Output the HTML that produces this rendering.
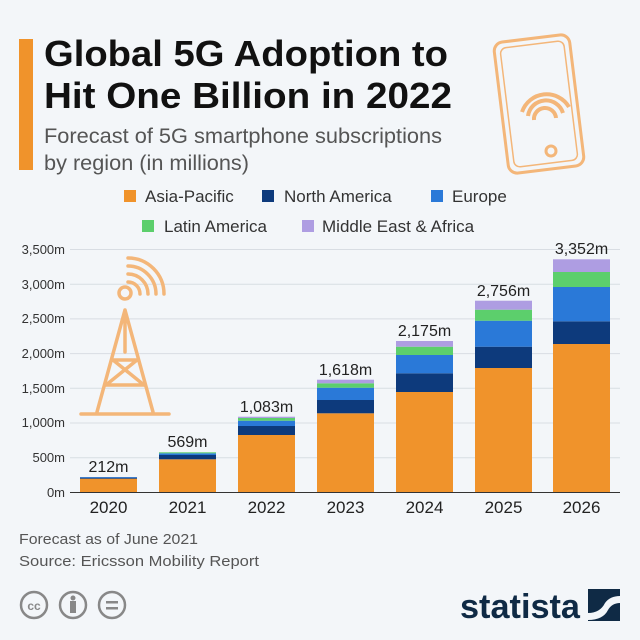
<!DOCTYPE html>
<html><head><meta charset="utf-8"><style>
body{margin:0;background:#f3f6f9;}
svg{display:block;font-family:"Liberation Sans",sans-serif;}
</style></head><body>
<svg width="640" height="640" viewBox="0 0 640 640">
<rect width="640" height="640" fill="#f3f6f9"/>
<rect x="19" y="39" width="14" height="131" fill="#f0932b"/>
<text x="44" y="66" font-size="36" font-weight="bold" fill="#111" textLength="404" lengthAdjust="spacingAndGlyphs">Global 5G Adoption to</text>
<text x="44" y="108" font-size="36" font-weight="bold" fill="#111" textLength="408" lengthAdjust="spacingAndGlyphs">Hit One Billion in 2022</text>
<text x="44" y="143" font-size="21" fill="#555" textLength="398" lengthAdjust="spacingAndGlyphs">Forecast of 5G smartphone subscriptions</text>
<text x="44" y="170" font-size="21" fill="#555" textLength="205" lengthAdjust="spacingAndGlyphs">by region (in millions)</text>
<!-- phone -->
<g fill="none" stroke="#f3b679" stroke-width="3">
<rect x="501" y="38" width="76" height="132" rx="9" transform="rotate(-7 539 104)"/>
<rect x="507" y="44" width="64" height="120" rx="6" transform="rotate(-7 539 104)" stroke-width="1.5"/>
<circle cx="551" cy="151" r="5"/>
<path d="M522 112 a26 26 0 0 1 47 -5 M528 116 a18 18 0 0 1 35 -3 M534 120 a10 10 0 0 1 22 -2" stroke-width="4"/>
</g>
<!-- legend -->
<g font-size="17" fill="#333">
<rect x="124" y="190" width="12" height="12" fill="#f0932b"/><text x="145" y="202">Asia-Pacific</text>
<rect x="262" y="190" width="12" height="12" fill="#0d3a7c"/><text x="284" y="202">North America</text>
<rect x="431" y="190" width="12" height="12" fill="#2a79d8"/><text x="452" y="202">Europe</text>
<rect x="142" y="220" width="12" height="12" fill="#5ccf6c"/><text x="164" y="232">Latin America</text>
<rect x="302" y="220" width="12" height="12" fill="#ae9de2"/><text x="322" y="232">Middle East &amp; Africa</text>
</g>
<!-- grid -->
<g stroke="#d8dde3" stroke-width="1">
<line x1="70" x2="620" y1="249.5" y2="249.5"/><line x1="70" x2="620" y1="284.2" y2="284.2"/>
<line x1="70" x2="620" y1="318.9" y2="318.9"/><line x1="70" x2="620" y1="353.6" y2="353.6"/>
<line x1="70" x2="620" y1="388.3" y2="388.3"/><line x1="70" x2="620" y1="423" y2="423"/>
<line x1="70" x2="620" y1="457.7" y2="457.7"/>
</g>
<g font-size="13" fill="#333" text-anchor="end">
<text x="65" y="254">3,500m</text><text x="65" y="289">3,000m</text><text x="65" y="323">2,500m</text>
<text x="65" y="358">2,000m</text><text x="65" y="393">1,500m</text><text x="65" y="427">1,000m</text>
<text x="65" y="462">500m</text><text x="65" y="497">0m</text>
</g>
<!-- tower -->
<g fill="none" stroke="#f3b679" stroke-width="3.5" stroke-linecap="round">
<circle cx="125" cy="293" r="6"/>
<path d="M128 282 a12 12 0 0 1 12 12 M128 274 a20 20 0 0 1 20 20 M128 266 a28 28 0 0 1 28 28 M128 258 a36 36 0 0 1 36 36"/>
<path d="M125 310 L97 412 M125 310 L153 412 M125 310 L125 352 M113 360 L137 360 M106 385 L144 385 M113 360 L144 385 M137 360 L106 385 M81 414 L169 414"/>
</g>
<!-- bars -->
<g>
<rect x="80" y="478.7" width="57" height="13.3" fill="#f0932b"/><rect x="80" y="477.7" width="57" height="1" fill="#0d3a7c"/><rect x="80" y="477" width="57" height="0.7" fill="#2a79d8"/>
<rect x="159" y="459.3" width="57" height="32.7" fill="#f0932b"/><rect x="159" y="455" width="57" height="4.3" fill="#0d3a7c"/><rect x="159" y="453.3" width="57" height="1.7" fill="#2a79d8"/><rect x="159" y="452.3" width="57" height="1" fill="#5ccf6c"/>
<rect x="238" y="435" width="57" height="57" fill="#f0932b"/><rect x="238" y="426" width="57" height="9" fill="#0d3a7c"/><rect x="238" y="420.7" width="57" height="5.3" fill="#2a79d8"/><rect x="238" y="418" width="57" height="2.7" fill="#5ccf6c"/><rect x="238" y="416.7" width="57" height="1.3" fill="#ae9de2"/>
<rect x="317" y="413.3" width="57" height="78.7" fill="#f0932b"/><rect x="317" y="400" width="57" height="13.3" fill="#0d3a7c"/><rect x="317" y="387.7" width="57" height="12.3" fill="#2a79d8"/><rect x="317" y="383.3" width="57" height="4.4" fill="#5ccf6c"/><rect x="317" y="379.7" width="57" height="3.6" fill="#ae9de2"/>
<rect x="396" y="392" width="57" height="100" fill="#f0932b"/><rect x="396" y="373.3" width="57" height="18.7" fill="#0d3a7c"/><rect x="396" y="355" width="57" height="18.3" fill="#2a79d8"/><rect x="396" y="346.7" width="57" height="8.3" fill="#5ccf6c"/><rect x="396" y="341" width="57" height="5.7" fill="#ae9de2"/>
<rect x="475" y="368" width="57" height="124" fill="#f0932b"/><rect x="475" y="346.7" width="57" height="21.3" fill="#0d3a7c"/><rect x="475" y="320.7" width="57" height="26" fill="#2a79d8"/><rect x="475" y="309.7" width="57" height="11" fill="#5ccf6c"/><rect x="475" y="300.7" width="57" height="9" fill="#ae9de2"/>
<rect x="553" y="344" width="57" height="148" fill="#f0932b"/><rect x="553" y="321.3" width="57" height="22.7" fill="#0d3a7c"/><rect x="553" y="287" width="57" height="34.3" fill="#2a79d8"/><rect x="553" y="272" width="57" height="15" fill="#5ccf6c"/><rect x="553" y="259.3" width="57" height="12.7" fill="#ae9de2"/>
</g>
<line x1="70" x2="620" y1="492.5" y2="492.5" stroke="#333" stroke-width="1"/>
<g font-size="16" fill="#222" text-anchor="middle">
<text x="108.5" y="472">212m</text><text x="187.5" y="447">569m</text><text x="266.5" y="412">1,083m</text>
<text x="345.5" y="375">1,618m</text><text x="424.5" y="336">2,175m</text><text x="503.5" y="296">2,756m</text><text x="581.5" y="254">3,352m</text>
</g>
<g font-size="17" fill="#222" text-anchor="middle">
<text x="108.5" y="513">2020</text><text x="187.5" y="513">2021</text><text x="266.5" y="513">2022</text><text x="345.5" y="513">2023</text>
<text x="424.5" y="513">2024</text><text x="503.5" y="513">2025</text><text x="581.5" y="513">2026</text>
</g>
<g font-size="15" fill="#555">
<text x="19" y="544" textLength="179" lengthAdjust="spacingAndGlyphs">Forecast as of June 2021</text>
<text x="19" y="566" textLength="240" lengthAdjust="spacingAndGlyphs">Source: Ericsson Mobility Report</text>
</g>
<g fill="none" stroke="#888" stroke-width="2.5">
<circle cx="34" cy="605" r="13"/><circle cx="73" cy="605" r="13"/><circle cx="112" cy="605" r="13"/>
</g>
<text x="34" y="610" font-size="12" font-weight="bold" fill="#888" text-anchor="middle">cc</text>
<circle cx="73" cy="598" r="2.5" fill="#888"/><rect x="70" y="601" width="6" height="12" fill="#888"/>
<rect x="106" y="601" width="12" height="2.5" fill="#888"/><rect x="106" y="607" width="12" height="2.5" fill="#888"/>
<text x="460" y="618" font-size="34" font-weight="bold" fill="#0f2a45" textLength="120" lengthAdjust="spacingAndGlyphs">statista</text>
<rect x="588" y="589" width="32" height="32" fill="#0f2a45"/>
<path d="M588 613 Q600 613 605 603 Q610 596 620 596 L620 603 Q612 603 608 610 Q603 620 588 620Z" fill="#f3f6f9"/>
</svg>
</body></html>
